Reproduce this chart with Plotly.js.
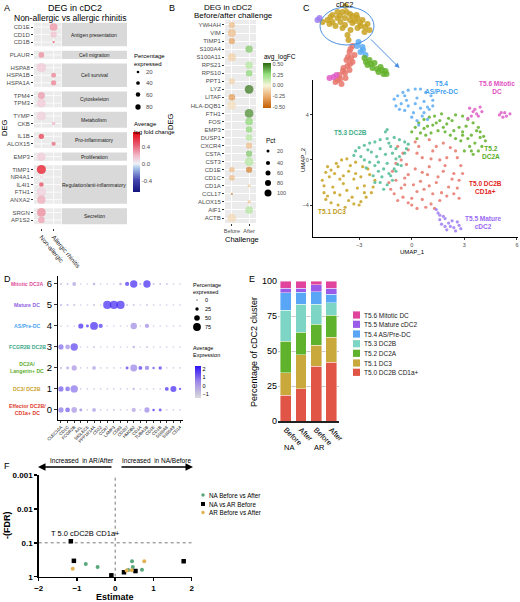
<!DOCTYPE html>
<html>
<head>
<meta charset="utf-8">
<script src="https://cdn.plot.ly/plotly-3.0.1.min.js"></script>
<style>
html,body{margin:0;padding:0;background:#fff;}
#myDiv{width:520px;height:602px;}
</style>
</head>
<body>
<div id="myDiv"></div>
<script>
// ---------- A : DEG in cDC2, non-allergic vs allergic rhinitis
var groupsA = ["Antigen presentation","Cell migration","Cell survival","Cytoskeleton","Metabolism","Pro-inflammatory","Proliferation","Regulation/anti-inflammatory","Secretion"];
var genesA = ["CD1E","CD1D","CD1B","PLAUR","HSPA8","HSPA1B","HSPA1A","TPM4","TPM3","TYMP","CKB","IL1B","ALOX15","EMP3","TIMP1","NR4A1","IL4I1","FTH1","ANXA2","SRGN","AP1S2"];
var groupOfA = [0,0,0,1,2,2,2,3,3,4,4,5,5,6,7,7,7,7,7,8,8];
var condA = ["Non-allergic","Allergic rhinitis"];
var colA = [1,1,1,0,0,1,1,0,0,0,1,0,1,0,0,0,0,0,0,0,0];
var pctA = [66,44,5,35,100,27,31,55,85,93,14,31,20,79,93,9,23,100,79,85,49];
var fcA = [0.32,0.18,0.55,0.35,0.15,0.38,0.38,0.3,0.15,0.13,0.22,0.6,0.45,0.15,0.72,0.12,0.55,0.12,0.25,0.35,0.28];
var legPctA = [20,40,60,80];

// ---------- B : DEG in cDC2, before/after challenge
var genesB = ["YWHAH","VIM","TIMP1","S100A4","S100A11","RPS21","RPS10","PPT1","LYZ","LITAF","HLA-DQB1","FTH1","FOS","EMP3","DUSP1","CXCR4","CSTA","CST3","CD1E","CD1C","CD1A","CCL17","ALOX15","AIF1","ACTB"];
var condB = ["Before","After"];
var dotGeneB = ["YWHAH","VIM","TIMP1","S100A4","S100A11","RPS21","RPS10","PPT1","LYZ","LITAF","HLA-DQB1","FTH1","FOS","EMP3","DUSP1","CXCR4","CSTA","CST3","CD1E","CD1E","CD1C","CD1A","CCL17","ALOX15","AIF1","ACTB"];
var dotCondB = ["Before","Before","Before","After","Before","After","After","Before","After","Before","Before","After","After","After","After","After","After","After","Before","After","Before","After","Before","After","After","Before"];
var dotPctB = [50,82,50,70,82,70,56,50,98,56,98,100,76,56,56,50,50,98,40,50,44,14,5,14,76,98];
var dotFcB = [-0.2,-0.2,-0.3,0.32,-0.13,0.18,0.28,-0.12,0.5,-0.33,-0.08,0.45,0.28,0.28,0.18,-0.2,0.32,0.18,-0.2,-0.42,-0.2,-0.15,-0.55,-0.18,0.18,-0.1];
var legPctB = [20,40,60,80,100];

// ---------- C : UMAP (coordinates)
var t50x = [-0.8,0.2,1.0,1.8,2.5,2.8,2.7,2.4,1.6,0.8,-0.2,-1.0,-1.3,-1.1,-0.6,0.3,1.2,2.0,1.8,1.0,0.2,-0.4,0.5,1.4,2.1,1.2,0.3,-0.6,0.0,0.9,1.6,-0.2,2.4,0.6,-0.9,
  -1.2,-0.9,-0.3,0.6,1.4,2.2,2.6,2.9,2.6,2.0,1.1,0.3,-0.5,0.1,0.7,1.7,2.3,1.5,0.6,-0.2,1.9,1.1,0.4,-0.5,2.7,1.3,0.0,-0.8,-0.4,1.0];
var t50y = [1.2,1.6,1.8,1.5,0.8,-0.5,-1.8,-3.0,-3.6,-4.2,-3.8,-3.0,-2.0,-1.0,0.0,0.6,0.8,0.2,-1.0,-0.6,-0.8,-1.6,-1.9,-2.0,-2.4,-3.0,-2.8,-2.5,-3.4,-1.3,0.0,0.9,-1.2,-3.5,-0.3,
  -2.6,-1.8,-0.4,0.2,1.2,1.1,0.2,-1.2,-2.5,-3.2,-3.9,-4.3,-3.3,-2.2,-2.6,-2.9,-1.7,-1.5,-1.1,-1.3,-0.5,0.1,1.2,0.6,-3.4,-4.3,-4.0,-3.6,-2.2,-2.3];
var t51x = [-4.8,-4.0,-3.2,-2.5,-2.1,-2.3,-2.9,-3.8,-4.6,-5.0,-5.1,-4.4,-3.6,-2.9,-3.1,-3.9,-4.5,-4.1,-3.4,-2.7,-4.7,-3.5,-4.2,-3.0,-4.9,
  -4.3,-3.7,-2.8,-2.4,-2.2,-2.6,-3.3,-4.2,-4.8,-5.0,-4.9,-4.1,-3.3,-3.7,-4.4,-2.7,-3.6,-3.2,-4.6,-3.9];
var t51y = [-0.6,0.0,-0.2,-0.8,-1.8,-2.9,-3.7,-4.2,-3.8,-2.9,-1.8,-1.2,-1.0,-1.5,-2.5,-2.1,-2.4,-3.1,-3.3,-2.3,-1.5,-0.5,-0.6,-4.0,-3.5,
  -0.3,0.1,-0.6,-1.3,-2.4,-3.3,-3.9,-4.0,-3.2,-2.3,-1.1,-1.7,-1.7,-2.7,-2.9,-2.9,-3.6,-1.2,-0.9,-1.4];
var t52x = [0.0,0.4,1.0,1.7,2.5,3.2,3.8,4.1,4.0,3.5,3.0,2.8,2.2,1.5,0.8,0.3,1.2,2.0,2.7,3.4,3.6,2.4,1.6,3.1,0.7,3.9,2.9,
  0.2,0.7,1.3,2.1,2.9,3.5,3.7,4.2,3.8,3.3,3.2,2.5,1.9,1.1,0.5,1.4,2.3,2.9,3.9,3.4,0.9,1.8];
var t52y = [2.5,3.3,3.8,4.1,4.0,3.6,2.9,2.1,1.2,0.5,0.8,1.7,2.2,2.6,2.2,1.9,3.1,3.2,2.9,2.2,1.5,2.6,3.5,3.0,2.8,2.5,2.2,
  2.9,3.6,3.9,3.7,3.9,3.3,2.6,1.7,0.8,1.2,1.9,1.9,2.5,2.4,2.4,3.3,3.5,2.5,2.0,0.8,3.0,2.9];
var t53x = [-3.2,-2.7,-2.1,-1.4,-0.7,-0.2,-0.4,-0.9,-1.0,-1.1,-1.6,-2.1,-1.9,-2.4,-2.9,-1.5,-1.8,-1.2,-2.3,-1.4,-1.7,-0.6,-2.6,-1.3,-0.9,-1.5,-1.4,
  -3.0,-2.4,-1.8,-1.0,-0.4,-0.3,-0.7,-0.8,-1.2,-1.4,-1.8,-2.2,-2.1,-2.7,-3.3,-2.0,-1.1,-1.6,-0.9,-2.5,-1.3,-1.9];
var t53y = [0.8,1.3,1.6,1.9,1.8,1.4,0.6,0.1,-0.8,-1.8,-2.6,-2.0,-1.0,-0.2,0.3,0.5,1.0,1.2,0.7,-0.3,-1.5,-0.5,-0.7,-1.2,1.0,2.5,2.7,
  1.1,1.5,1.8,2.0,1.6,1.0,0.3,-0.4,-1.4,-2.2,-2.0,-1.4,-0.5,0.0,0.4,0.3,0.6,-0.8,-1.0,0.9,1.5,-0.2];
var t54x = [-1.0,-0.5,0.2,0.8,1.2,1.0,0.9,0.4,0.0,-0.4,-0.9,-0.3,0.3,0.5,0.1,-0.6,0.7,0.6,
  -0.8,-0.2,0.5,1.1,1.2,0.7,0.3,-0.2,-0.7,0.2,0.9,-0.4];
var t54y = [5.4,6.0,6.3,6.0,5.3,4.5,3.6,3.1,3.8,4.4,4.8,5.3,5.5,4.6,4.2,5.0,5.2,3.9,
  5.7,6.2,6.3,5.7,4.8,4.2,3.5,4.8,4.5,5.0,4.7,5.7];
var t55x = [1.4,1.6,1.9,2.3,2.7,2.5,2.0,1.7,2.2,2.6,1.5,1.8,2.1,2.4,1.9,2.8,1.6];
var t55y = [-4.4,-4.9,-5.2,-5.4,-5.8,-6.3,-6.2,-5.7,-5.9,-5.5,-4.7,-5.0,-5.6,-6.0,-5.9,-6.1,-5.3];
var t56x = [3.3,3.5,3.7,3.9,4.0,3.4,5.0,5.3,5.6,5.2,3.2,3.6,3.8,5.4,5.1];
var t56y = [4.6,4.3,4.1,4.7,4.3,3.9,4.0,4.2,4.1,3.8,3.7,4.5,3.9,3.9,4.2];
// inset overview UMAP
var insYelX = [-5.5,-4.5,-3.5,-2.5,-1.9,-1.7,-0.5,0.5,1.5,2.5,2.9,1.9,0.5,-0.9,-2.5,-3.9,-5.1,-2.9,-0.5,1.1,-1.5,-1.3,-6.5,-3.5,
  -4.9,-3.0,-1.0,0.0,1.0,2.0,-2.0,-4.5,-1.0,-2.0,0.3];
var insYelY = [5.0,6.0,5.4,6.6,7.8,6.6,5.8,5.4,5.0,4.2,3.0,2.6,3.4,3.0,3.4,3.8,4.2,4.6,4.4,3.8,2.0,1.0,4.6,6.6,
  5.6,5.8,5.0,4.8,4.4,3.6,4.0,4.6,6.2,5.4,6.0];
var insRedX = [-0.5,-1.1,-0.1,-1.7,-0.5,-2.3,-1.1,-3.1,-1.9,-3.9,-2.7,-1.5,-0.9,-1.4,-1.0,-2.0,-3.0,-2.4,-3.5,-0.8];
var insRedY = [-0.2,-1.4,-2.0,-3.0,-3.4,-4.6,-5.0,-6.0,-6.6,-7.4,-7.8,-4.2,-0.8,-2.4,-3.8,-5.6,-6.8,-5.2,-7.0,-2.6];
var insBluX = [0.7,1.5,1.1,2.1,0.4,1.6];
var insBluY = [0.6,-0.4,-1.4,-2.0,-0.2,-1.0];
var insGrnX = [1.9,2.9,3.9,5.1,6.1,3.5,4.7,2.5,5.7,3.2,4.4,5.4,6.3,2.2];
var insGrnY = [-2.6,-3.0,-3.6,-4.4,-5.2,-4.6,-5.4,-4.0,-5.8,-3.8,-4.8,-5.0,-5.8,-3.4];
var insPurX = [-7.1,-7.5];
var insPurY = [5.4,5.0];
var insPnkX = [-4.3,-5.1,-3.7];
var insPnkY = [-6.4,-6.6,-6.0];

// ---------- D : marker dot plot
var clustersD = ["Effector DC2B/<br>CD1a+ DC","DC3/ DC2B","DC2A/<br>Langerin+ DC","FCGR2B DC2B","AS/Pre-DC","Mature DC","Mitotic DC2A"];
var genesD = ["CLEC10A","CD1C","FCGR2B","AXL","SIGLEC6","PPP1R14A","CD22","CCR7","LAMP3","CD83","CD207","HMGB2","CD1A","TUBA1B","CD1E","CD1B","S100A8","S100A9","CD14"];
var pctD = [
  [45,40,50,20,5,30,5,5,8,5,5,35,5,45,15,20,5,5,5],
  [45,40,70,5,5,5,5,5,5,5,5,12,5,5,5,5,30,55,12],
  [10,20,45,5,5,30,5,5,5,5,20,65,30,35,15,25,5,5,5],
  [45,40,70,5,5,8,5,5,5,5,5,15,5,8,5,5,5,5,5],
  [5,5,5,45,20,75,35,5,5,5,5,60,5,35,5,5,5,5,5],
  [10,10,10,5,5,8,5,80,80,80,8,8,5,8,5,5,5,5,5],
  [8,8,30,5,5,15,5,5,5,15,35,70,10,70,8,8,8,5,5]
];
var expD = [
  [0.9,1.3,0.3,0.6,-0.5,0.2,-0.5,-0.5,-0.3,-0.5,-0.5,0,-0.5,0.6,2,1.8,-0.5,-0.5,-0.5],
  [1.3,1.2,0.9,-0.5,-0.5,-0.5,-0.5,-0.5,-0.5,-0.5,-0.5,0,-0.5,-0.5,-0.5,-0.5,2,2,2],
  [0,0,0.3,-0.5,-0.5,0,-0.5,-0.5,-0.5,-0.5,1.8,0.6,1.8,0.9,1.5,1.8,-0.5,-0.5,-0.5],
  [1,0.5,1.6,-0.5,-0.5,-0.3,-0.5,-0.5,-0.5,-0.5,-0.5,0,-0.5,-0.3,-0.5,-0.5,-0.5,-0.5,-0.5],
  [-0.5,-0.5,-0.5,2,2,2,1.8,-0.5,-0.5,-0.5,-0.5,0.5,-0.5,0.5,-0.5,-0.5,-0.5,-0.5,-0.5],
  [0,0,-0.3,-0.5,-0.5,-0.3,-0.5,2,2,2,-0.3,-0.3,-0.5,-0.3,-0.5,-0.5,-0.5,-0.5,-0.5],
  [-0.3,-0.3,0,-0.5,-0.5,0,-0.5,-0.5,-0.5,0.3,1.8,2,0.2,2,-0.3,-0.3,-0.3,-0.5,-0.5]
];
var legPctD = [0,25,50,75];

// ---------- E : cluster composition (%)
var samplesE = ["Before","After","Before","After"];
var e50 = [18.5,23,39,42];
var e51 = [16,24.5,15,18];
var e52 = [22.5,16,15,15.5];
var e53 = [22,20,14.5,9];
var e54 = [12.5,8.5,9,6];
var e55 = [3.5,3,5,4.5];
var e56 = [5,5,2.5,5];

// ---------- F : estimate vs FDR
var naBAx = [-0.77,-0.46,0.34,0.44,0.46,0.70];
var naBAfdr = [0.42,0.52,0.63,0.35,0.52,0.62];
var naARx = [-1.16,-1.08,-0.10,0.23,0.53,1.79];
var naARfdr = [0.09,0.34,0.91,0.74,0.68,0.35];
var arBAx = [-1.11,0.30,0.43,0.76];
var arBAfdr = [0.58,0.66,0.65,0.35];

// ================= drawing =================
var FONT = "Liberation Sans, Arial, sans-serif";
function X(p){ return p/520; }
function Y(p){ return 1 - p/602; }
var data = [], shapes = [], ann = [];
function note(px, py, text, size, o){
  o = o || {};
  ann.push({xref:'paper', yref:'paper', x:X(px), y:Y(py), text:text, showarrow:false,
    font:{family:FONT, size:size, color:o.color || '#000', weight:o.weight || 'normal'},
    xanchor:o.xa || 'center', yanchor:o.ya || 'middle', align:o.align || 'center',
    textangle:o.angle || 0, borderpad:0});
}
function dot(cx, cy, d, col){
  shapes.push({type:'circle', xref:'paper', yref:'paper', x0:X(cx-d/2), x1:X(cx+d/2),
    y0:Y(cy+d/2), y1:Y(cy-d/2), fillcolor:col, line:{width:0}});
}
function box(x0, y0, x1, y1, col){
  shapes.push({type:'rect', xref:'paper', yref:'paper', x0:X(x0), x1:X(x1),
    y0:Y(y1), y1:Y(y0), fillcolor:col, line:{width:0}});
}

// ---- A
var posA = genesA.map(function(g, i){ return i + groupOfA[i]*0.7; });
groupsA.forEach(function(name, g){
  var ps = posA.filter(function(p, i){ return groupOfA[i] === g; });
  var y0 = ps[0] - 0.55, y1 = ps[ps.length-1] + 0.55;
  shapes.push({type:'rect', xref:'x', yref:'y', x0:0.4, x1:2.6, y0:y0, y1:y1, fillcolor:'#ebebeb', line:{width:0}, layer:'below'});
  ps.forEach(function(p){
    shapes.push({type:'line', xref:'x', yref:'y', x0:0.4, x1:2.6, y0:p, y1:p, line:{color:'#fff', width:0.8}, layer:'below'});
  });
  [1,2].forEach(function(c){
    shapes.push({type:'line', xref:'x', yref:'y', x0:c, x1:c, y0:y0, y1:y1, line:{color:'#fff', width:0.8}, layer:'below'});
  });
  shapes.push({type:'rect', xref:'x', yref:'y', x0:2.66, x1:7.98, y0:y0, y1:y1, fillcolor:'#d9d9d9', line:{width:0}, layer:'below'});
  ann.push({xref:'x', yref:'y', x:5.32, y:(y0+y1)/2, text:name, showarrow:false, font:{family:FONT, size:5, color:'#1a1a1a'}});
});
data.push({type:'scatter', mode:'markers', xaxis:'x', yaxis:'y', cliponaxis:false,
  x:colA.map(function(c){ return c+1; }), y:posA,
  marker:{size:pctA.map(function(p){ return 0.95*Math.sqrt(p); }), color:fcA, cmin:-0.66, cmax:0.75,
    colorscale:[[0,'#14147e'],[0.2,'#4646b0'],[0.4,'#a9c6ea'],[0.47,'#eef2f8'],[0.6,'#f2bccb'],[0.8,'#e6566c'],[1,'#e8000e']],
    line:{width:0}, showscale:true,
    colorbar:{x:X(133), xanchor:'left', y:Y(132), yanchor:'top', lenmode:'pixels', len:60, thickness:7,
      xpad:0, ypad:0, outlinewidth:0, ticks:'', tickvals:[-0.4,0,0.4], ticktext:['-0.4','0.0','0.4'],
      tickfont:{family:FONT, size:6, color:'#4d4d4d'}}},
  hoverinfo:'skip'});
note(75, 2, 'DEG in cDC2', 9, {ya:'top'});
note(70, 12, 'Non-allergic vs allergic rhinitis', 8.5, {ya:'top'});
note(4, 128, 'DEG', 7.5, {angle:-90});
note(133, 52, 'Percentage<br>expressed', 6, {xa:'left', ya:'top', align:'left'});
var legYA = [72,83,94.5,107], legDA = [2.7,3.7,4.5,5.3];
legPctA.forEach(function(v, i){ dot(138, legYA[i], legDA[i], '#000'); note(145, legYA[i], String(v), 6, {xa:'left', color:'#4d4d4d'}); });
note(133, 120, 'Average<br>log fold change', 6, {xa:'left', ya:'top', align:'left'});

// ---- B
shapes.push({type:'rect', xref:'x2 domain', yref:'y2 domain', x0:0, x1:1, y0:0, y1:1, fillcolor:'#ebebeb', line:{width:0}, layer:'below'});
data.push({type:'scatter', mode:'markers', xaxis:'x2', yaxis:'y2', cliponaxis:false,
  x:dotCondB.map(function(c){ return condB.indexOf(c)+1; }),
  y:dotGeneB.map(function(g){ return genesB.indexOf(g); }),
  marker:{size:dotPctB.map(function(p){ return 0.88*Math.sqrt(p); }), color:dotFcB, cmin:-0.52, cmax:0.52,
    colorscale:[[0,'#c45f00'],[0.25,'#e9a96a'],[0.5,'#f8f4dc'],[0.75,'#92df7c'],[1,'#2a690c']],
    line:{width:0}, showscale:true,
    colorbar:{x:X(263), xanchor:'left', y:Y(63), yanchor:'top', lenmode:'pixels', len:45, thickness:8,
      xpad:0, ypad:0, outlinewidth:0, ticks:'', tickvals:[-0.5,-0.25,0,0.25,0.5],
      ticktext:['-0.50','-0.25','0.00','0.25','0.50'], tickfont:{family:FONT, size:5.5, color:'#4d4d4d'}}},
  hoverinfo:'skip'});
note(168, 2, 'B', 9, {xa:'left', ya:'top'});
note(228, 2, 'DEG in cDC2', 8, {ya:'top'});
note(233, 10, 'Before/after challenge', 8, {ya:'top'});
note(170, 122, 'DEG', 7.5, {angle:-90});
note(242, 239, 'Challenge', 7.5);
note(263, 52, 'avg_logFC', 6.5, {xa:'left', ya:'top'});
note(265, 136, 'Pct', 6.5, {xa:'left', ya:'top'});
var legYB = [151,163,173,183,193], legDB = [3,4.2,5,6,7];
legPctB.forEach(function(v, i){ dot(268, legYB[i], legDB[i], '#000'); note(276, legYB[i], String(v), 5.5, {xa:'left', color:'#4d4d4d'}); });

// ---- C
var umap = [
  ['#e8756b', t50x, t50y], ['#c8a222', t51x, t51y], ['#64b22c', t52x, t52y], ['#4fbb93', t53x, t53y],
  ['#5aacf2', t54x, t54y], ['#9d7df2', t55x, t55y], ['#df5cc6', t56x, t56y]
];
umap.forEach(function(u){
  data.push({type:'scatter', mode:'markers', xaxis:'x3', yaxis:'y3', x:u[1], y:u[2], cliponaxis:false,
    marker:{size:3.2, color:u[0], opacity:0.85, line:{width:0}}, hoverinfo:'skip'});
});
var inset = [['#c8a222', insYelX, insYelY], ['#e8756b', insRedX, insRedY], ['#5aacf2', insBluX, insBluY],
  ['#64b22c', insGrnX, insGrnY], ['#9d7df2', insPurX, insPurY], ['#df5cc6', insPnkX, insPnkY]];
inset.forEach(function(u){
  data.push({type:'scatter', mode:'markers', xaxis:'x4', yaxis:'y4', x:u[1], y:u[2], cliponaxis:false,
    marker:{size:6, color:u[0], opacity:0.85, line:{width:0}}, hoverinfo:'skip'});
});
shapes.push({type:'circle', xref:'x4', yref:'y4', x0:-7, x1:3.8, y0:0, y1:7.6, line:{color:'#4a90e0', width:1}});
ann.push({xref:'x4', yref:'y4', axref:'x4', ayref:'y4', x:8.9, y:-4.6, ax:2.9, ay:1.4, text:'', showarrow:true,
  arrowhead:2, arrowsize:1, arrowwidth:1, arrowcolor:'#4a90e0'});
note(302, 2, 'C', 9, {xa:'left', ya:'top'});
note(345, 4, 'cDC2', 7);
note(441, 87, 'T5.4<br>AS/Pre-DC', 6.5, {color:'#3f9fee', weight:'bold'});
note(497, 87, 'T5.6 Mitotic<br>DC', 6.5, {color:'#df4fc0', weight:'bold'});
note(350, 132, 'T5.3 DC2B', 6.5, {color:'#3fae88', weight:'bold'});
note(491, 153, 'T5.2<br>DC2A', 6.5, {color:'#58ac28', weight:'bold'});
note(485, 187, 'T5.0 DC2B<br>CD1a+', 6.5, {color:'#e2261a', weight:'bold'});
note(483, 223, 'T5.5 Mature<br>cDC2', 6.5, {color:'#9a6af5', weight:'bold'});
note(332, 212, 'T5.1 DC3', 6.5, {color:'#c29c18', weight:'bold'});
note(412, 252, 'UMAP_1', 6);
note(303, 160, 'UMAP_2', 6, {angle:-90});

// ---- D
var sizeD = function(p){ return 1.2 + 0.088*p; };
var dX = [], dY = [], dS = [], dC = [];
pctD.forEach(function(row, r){
  row.forEach(function(p, c){ dX.push(c); dY.push(r); dS.push(sizeD(p)); dC.push(expD[r][c]); });
});
data.push({type:'scatter', mode:'markers', xaxis:'x5', yaxis:'y5', x:dX, y:dY, cliponaxis:false,
  marker:{size:dS, color:dC, cmin:-1.4, cmax:2.3, colorscale:[[0,'#dadada'],[0.5,'#a08ae6'],[1,'#2d12f6']],
    line:{width:0}, showscale:true,
    colorbar:{x:X(195), xanchor:'left', y:Y(366), yanchor:'top', lenmode:'pixels', len:32, thickness:6,
      xpad:0, ypad:0, outlinewidth:0, ticks:'', tickvals:[-1,0,1,2], tickfont:{family:FONT, size:5.5}}},
  hoverinfo:'skip'});
var labColD = ['#e0392a','#c9a227','#5fae2e','#38a88a','#4aa3f0','#8f5fe0','#e0509a'];
clustersD.forEach(function(t, r){
  ann.push({xref:'paper', yref:'y5', x:X(27), y:r, text:t, showarrow:false, align:'center', xanchor:'center',
    font:{family:FONT, size:5.2, color:labColD[r], weight:'bold'}});
});
note(3, 273, 'D', 9, {xa:'left', ya:'top'});
note(192, 281, 'Percentage<br>expressed', 5.5, {xa:'left', ya:'top', align:'left'});
var legYD = [300,309,318,327];
legPctD.forEach(function(v, i){ dot(197, legYD[i], sizeD(v), '#000'); note(204, legYD[i], String(v), 5.5, {xa:'left'}); });
note(192, 344, 'Average<br>Expression', 5.5, {xa:'left', ya:'top', align:'left'});

// ---- E
var eSeries = [[e50,'#e05545','T5.0 DC2B CD1a+'],[e51,'#c9a83c','T5.1 DC3'],[e52,'#5fb22b','T5.2 DC2A'],
  [e53,'#7dd6c5','T5.3 DC2B'],[e54,'#58a6f5','T5.4 AS/Pre-DC'],[e55,'#9a5ce8','T5.5 Mature cDC2'],[e56,'#e0449c','T5.6 Mitotic DC']];
var legYE = [372.3,363,353.3,343.7,334,324.3,315];
eSeries.forEach(function(s, k){
  data.push({type:'bar', xaxis:'x6', yaxis:'y6', x:[0,1,2,3], y:s[0], width:0.73,
    marker:{color:s[1], line:{color:'rgba(255,255,255,0.7)', width:0.6}}, hoverinfo:'skip'});
  box(353, legYE[k]-3.6, 360, legYE[k]+3.6, s[1]);
  note(363, legYE[k], s[2], 6.5, {xa:'left', color:'#222'});
});
note(248, 273, 'E', 9, {xa:'left', ya:'top'});
note(254, 352, 'Percentage of cDC2 cluster', 9, {angle:-90});
note(289, 447, 'NA', 7.5);
note(319, 447, 'AR', 7.5);

// ---- F
data.push({type:'scatter', mode:'lines', xaxis:'x7', yaxis:'y7', x:[-2,2], y:[0.1,0.1],
  line:{color:'#777', width:1, dash:'dot'}, hoverinfo:'skip'});
data.push({type:'scatter', mode:'lines', xaxis:'x7', yaxis:'y7', x:[0,0], y:[1,0.001],
  line:{color:'#777', width:1, dash:'dot'}, hoverinfo:'skip'});
data.push({type:'scatter', mode:'markers', xaxis:'x7', yaxis:'y7', x:naBAx, y:naBAfdr, cliponaxis:false,
  marker:{symbol:'circle', size:4, color:'#5aa77c'}, hoverinfo:'skip'});
data.push({type:'scatter', mode:'markers', xaxis:'x7', yaxis:'y7', x:naARx, y:naARfdr, cliponaxis:false,
  marker:{symbol:'square', size:4.5, color:'#000'}, hoverinfo:'skip'});
data.push({type:'scatter', mode:'markers', xaxis:'x7', yaxis:'y7', x:arBAx, y:arBAfdr, cliponaxis:false,
  marker:{symbol:'circle', size:4, color:'#e5b253'}, hoverinfo:'skip'});
note(3, 460, 'F', 9, {xa:'left', ya:'top'});
ann.push({xref:'paper', yref:'paper', axref:'paper', ayref:'paper', x:X(38), y:Y(467), ax:X(113), ay:Y(467),
  text:'', showarrow:true, arrowhead:2, arrowsize:1, arrowwidth:1.5, arrowcolor:'#000'});
ann.push({xref:'paper', yref:'paper', axref:'paper', ayref:'paper', x:X(193), y:Y(467), ax:X(120), ay:Y(467),
  text:'', showarrow:true, arrowhead:2, arrowsize:1, arrowwidth:1.5, arrowcolor:'#000'});
note(82, 460, 'Increased  in AR/After', 6.5);
note(156, 460, 'Increased  in NA/Before', 6.5);
note(85, 533, 'T 5.0 cDC2B CD1a+', 7.5);
note(7, 525, '-(FDR)', 9, {angle:-90, weight:'bold'});
note(115, 597, 'Estimate', 9, {weight:'bold'});
dot(203, 495, 3.5, '#5aa77c'); note(208, 495, 'NA Before vs After', 6.3, {xa:'left'});
box(201, 502, 205, 506, '#000'); note(208, 504, 'NA vs AR Before', 6.3, {xa:'left'});
dot(203, 512.5, 3.5, '#e5b253'); note(208, 512.5, 'AR Before vs After', 6.3, {xa:'left'});
note(3, 2, 'A', 9, {xa:'left', ya:'top'});

// ---- axes
var ggTick = {ticks:'outside', ticklen:2, tickcolor:'#333', showgrid:false, zeroline:false};
function ax(o){ var r = {}; for (var k in ggTick) r[k] = ggTick[k]; for (var k2 in o) r[k2] = o[k2]; return r; }
var boldTick = {family:FONT, size:8, weight:'bold', color:'#000'};
var layout = {
  width:520, height:602, margin:{l:0, r:0, t:0, b:0},
  paper_bgcolor:'#fff', plot_bgcolor:'rgba(0,0,0,0)',
  font:{family:FONT, size:7, color:'#000'},
  showlegend:false, barmode:'stack', bargap:0,
  xaxis: ax({domain:[X(34), X(127)], range:[0.4, 7.98], anchor:'y', tickvals:[1,2], ticktext:condA,
    tickangle:50, tickfont:{size:6.3, color:'#222'}}),
  yaxis: ax({domain:[Y(228), Y(20)], range:[26.66, -0.93], anchor:'x', tickvals:posA, ticktext:genesA,
    tickfont:{size:6, color:'#4d4d4d'}}),
  xaxis2: {domain:[X(225), X(256)], range:[0.6, 2.4], anchor:'y2', tickvals:[1,2], ticktext:condB,
    ticks:'outside', ticklen:2, tickcolor:'#333', tickfont:{size:5.5, color:'#4d4d4d'},
    showgrid:true, gridcolor:'#fff', gridwidth:1, zeroline:false},
  yaxis2: {domain:[Y(223), Y(20)], range:[24.62, -0.62], anchor:'x2', tickvals:genesB.map(function(g, i){ return i; }),
    ticktext:genesB, ticks:'outside', ticklen:2, tickcolor:'#333', tickfont:{size:6, color:'#4d4d4d'},
    showgrid:true, gridcolor:'#fff', gridwidth:1, zeroline:false},
  xaxis3: ax({domain:[X(313), X(518)], range:[-5.63, 6.06], anchor:'y3', tickvals:[-3,0,3,6],
    tickfont:{size:5.5, color:'#4d4d4d'}, showline:true, linecolor:'#000', linewidth:1}),
  yaxis3: ax({domain:[Y(237), Y(80)], range:[-6.84, 7.1], anchor:'x3', tickvals:[-4,0,4],
    tickfont:{size:5.5, color:'#4d4d4d'}, showline:true, linecolor:'#000', linewidth:1}),
  xaxis4: {domain:[X(305), X(402)], range:[-10, 9.4], anchor:'y4', visible:false},
  yaxis4: {domain:[Y(88), Y(2)], range:[-8.6, 8.6], anchor:'x4', visible:false},
  xaxis5: ax({domain:[X(58), X(183)], range:[-0.45, 18.45], anchor:'y5', tickvals:genesD.map(function(g, i){ return i; }),
    ticktext:genesD, tickangle:-45, tickfont:{size:4.3, color:'#000'}, showline:true, linecolor:'#000', linewidth:1}),
  yaxis5: ax({domain:[Y(420), Y(276)], range:[-0.48, 6.38], anchor:'x5', tickvals:[0,1,2,3,4,5,6], ticklen:3,
    tickfont:{size:9.5, color:'#000'}, showline:true, linecolor:'#000', linewidth:1}),
  xaxis6: {domain:[X(278), X(339)], range:[-0.53, 3.53], anchor:'y6', tickvals:[0,1,2,3], ticktext:samplesE,
    tickangle:45, tickfont:{size:7.5}, ticks:'', showline:true, linecolor:'#222', linewidth:1.5,
    showgrid:false, zeroline:false},
  yaxis6: {domain:[Y(421), Y(281)], range:[0, 100], anchor:'x6', tickvals:[0,25,50,75,100], tickfont:{size:9},
    ticks:'', showgrid:true, gridcolor:'#c9c9c9', gridwidth:1, zeroline:false, showline:false},
  xaxis7: {domain:[X(38.7), X(191.7)], range:[-2, 2], anchor:'y7', tickvals:[-2,-1,0,1,2], tickfont:boldTick,
    ticks:'outside', ticklen:3, tickwidth:1.5, tickcolor:'#000', showline:true, linecolor:'#000', linewidth:1.5,
    showgrid:false, zeroline:false},
  yaxis7: {type:'log', domain:[Y(576.7), Y(475)], range:[0, -3], anchor:'x7', tickvals:[0.001,0.01,0.1,1],
    ticktext:['0.001','0.01','0.1','1'], tickfont:boldTick, ticks:'outside', ticklen:3, tickwidth:1.5, tickcolor:'#000',
    showline:true, linecolor:'#000', linewidth:1.5, showgrid:false, zeroline:false},
  shapes:shapes, annotations:ann
};
Plotly.newPlot('myDiv', data, layout, {displayModeBar:false, staticPlot:true});
</script>
</body>
</html>
